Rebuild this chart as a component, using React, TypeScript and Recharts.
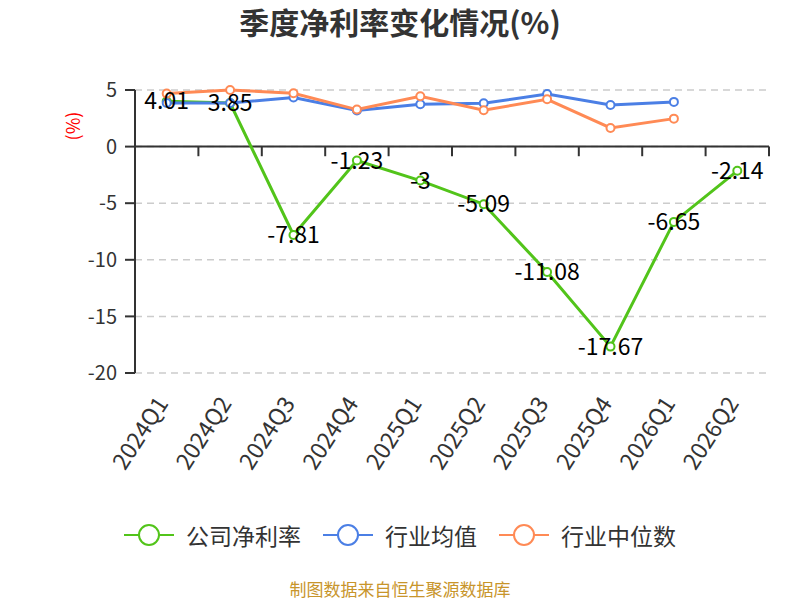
import React from 'react'
import { CartesianGrid, LabelList, Legend, Line, LineChart, ReferenceLine, XAxis, YAxis } from 'recharts'

const quarters = ['2024Q1', '2024Q2', '2024Q3', '2024Q4', '2025Q1', '2025Q2', '2025Q3', '2025Q4', '2026Q1', '2026Q2']
const companyRate = [4.01, 3.85, -7.81, -1.23, -3, -5.09, -11.08, -17.67, -6.65, -2.14]
const industryAvg = [3.85, 3.85, 4.33, 3.2, 3.74, 3.83, 4.65, 3.68, 3.95, null]
const industryMedian = [4.68, 5.0, 4.71, 3.27, 4.45, 3.21, 4.18, 1.65, 2.47, null]
const seriesNames = ['公司净利率', '行业均值', '行业中位数']
const yTicks = [5, 0, -5, -10, -15, -20]

const FONT = '"Noto Sans CJK SC", "Noto Sans", sans-serif'
const GREEN = '#52c41a'
const BLUE = '#4b7fe5'
const ORANGE = '#ff8a55'

const data = quarters.map((q, i) => ({
  idx: i,
  quarter: q,
  company: companyRate[i],
  avg: industryAvg[i],
  median: industryMedian[i],
}))

// boundaries between categories, where the zero axis has its ticks
const boundaries = quarters.map((_, i) => i + 0.5)

const XTick = (props: any) => {
  const { x, y, payload } = props
  return (
    <g transform={`translate(${x - 6},${y + 17})`}>
      <text textAnchor="end" dominantBaseline="central" transform="rotate(-57)" fontSize={23} fill="#333" fontFamily={FONT}>
        {quarters[payload.value]}
      </text>
    </g>
  )
}

const PointLabel = (props: any) => {
  const { x, y, value } = props
  return (
    <text x={x} y={y - 2} textAnchor="middle" dominantBaseline="central" fontSize={23} fill="#000" fontFamily={FONT}>
      {value}
    </text>
  )
}

const LegendBox = (props: any) => {
  const items = [...props.payload].sort((a: any, b: any) => seriesNames.indexOf(a.value) - seriesNames.indexOf(b.value))
  return (
    <div style={{ display: 'flex', justifyContent: 'center', gap: 22, fontFamily: FONT, fontSize: 23, color: '#333' }}>
      {items.map((p: any) => (
        <div key={p.value} style={{ display: 'flex', alignItems: 'center', gap: 12 }}>
          <svg width={50} height={26}>
            <line x1={0} y1={13} x2={50} y2={13} stroke={p.color} strokeWidth={2} />
            <circle cx={25} cy={13} r={10} fill="#fff" stroke={p.color} strokeWidth={2} />
          </svg>
          <span>{p.value}</span>
        </div>
      ))}
    </div>
  )
}

const App = () => {
  return (
    <div style={{ position: 'absolute', left: 0, top: 0, width: 800, height: 600, overflow: 'hidden', background: '#fff', fontFamily: FONT }}>
      <div style={{ position: 'absolute', left: 0, top: 2, width: 800, textAlign: 'center', fontSize: 30, lineHeight: '38px', fontWeight: 'bold', color: '#333' }}>
        季度净利率变化情况(%)
      </div>
      <div style={{ position: 'absolute', left: 72, top: 126, transform: 'translate(-50%,-50%) rotate(-90deg)', color: '#ff0000', fontSize: 18 }}>
        (%)
      </div>
      <LineChart width={800} height={600} data={data} margin={{ top: 90, right: 31, left: 0, bottom: 137 }}>
        <CartesianGrid vertical={false} stroke="#ccc" strokeDasharray="7 5" strokeWidth={1.5} />
        <XAxis
          dataKey="idx"
          type="number"
          domain={[-0.5, 9.5]}
          ticks={quarters.map((_, i) => i)}
          axisLine={false}
          tickLine={false}
          height={90}
          tick={<XTick />}
          interval={0}
        />
        <YAxis
          domain={[-20, 5]}
          ticks={yTicks}
          width={135}
          axisLine={{ stroke: '#333', strokeWidth: 2 }}
          tickLine={{ stroke: '#333', strokeWidth: 2 }}
          tickSize={10}
          tickMargin={8}
          tick={{ fontSize: 20, fill: '#333', fontFamily: FONT }}
        />
        <ReferenceLine y={0} stroke="#333" strokeWidth={2} />
        {boundaries.map((b) => (
          <ReferenceLine key={b} segment={[{ x: b, y: 0 }, { x: b, y: -0.85 }]} stroke="#333" strokeWidth={2} />
        ))}
        <Line
          name={seriesNames[0]}
          dataKey="company"
          stroke={GREEN}
          strokeWidth={3}
          dot={{ r: 4, fill: '#fff', stroke: GREEN, strokeWidth: 2 }}
          activeDot={false}
          isAnimationActive={false}
        >
          <LabelList dataKey="company" content={<PointLabel />} />
        </Line>
        <Line
          name={seriesNames[1]}
          dataKey="avg"
          stroke={BLUE}
          strokeWidth={3}
          dot={{ r: 4, fill: '#fff', stroke: BLUE, strokeWidth: 2 }}
          activeDot={false}
          isAnimationActive={false}
        />
        <Line
          name={seriesNames[2]}
          dataKey="median"
          stroke={ORANGE}
          strokeWidth={3}
          dot={{ r: 4, fill: '#fff', stroke: ORANGE, strokeWidth: 2 }}
          activeDot={false}
          isAnimationActive={false}
        />
        <Legend
          verticalAlign="middle"
          layout="horizontal"
          align="center"
          content={<LegendBox />}
          wrapperStyle={{ top: 518, left: 0, width: 800 }}
        />
      </LineChart>
      <div style={{ position: 'absolute', left: 0, top: 578, width: 800, textAlign: 'center', fontSize: 17, lineHeight: '22px', color: '#c8952b' }}>
        制图数据来自恒生聚源数据库
      </div>
    </div>
  )
}

export default App
